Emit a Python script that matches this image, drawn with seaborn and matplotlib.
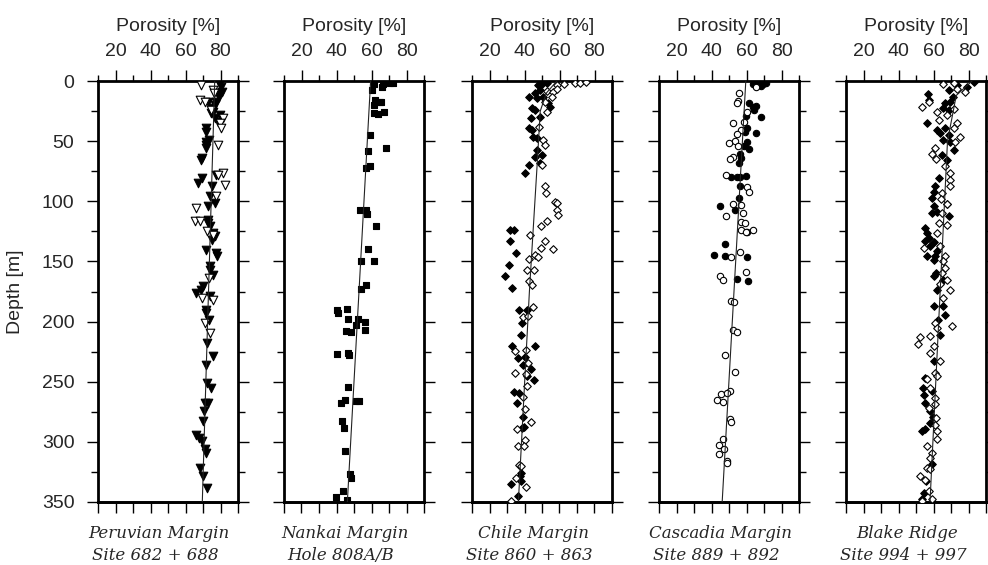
import matplotlib
matplotlib.use("Agg")
import matplotlib.pyplot as plt
import seaborn as sns
import numpy as np
import pandas as pd
from matplotlib.ticker import MultipleLocator, FixedLocator

# ---------------- data (porosity [%], depth [m]) ----------------
# Peruvian Margin, Site 682 + 688
peru_fill_phi = [79.5,80.5,81.1,78.6,79.1,77.6,76.7,72.9,75.3,75.7,74.8,76.7,79.5,78.6,71.5,71.9,73.4,71.9,71.5,71.9,
                 69.6,69.1,77.6,69.6,67.1,75.3,73.8,76.7,72.9,72.9,72.9,74.2,75.7,76.7,75.3,71.5,77.6,78.0,74.2,73.8,
                 75.7,70.0,69.1,66.2,73.8,71.5,71.9,73.4,72.5,75.7,71.9,72.5,74.8,71.0,72.9,70.4,70.0,66.2,67.7,69.6,
                 71.0,71.9,68.1,70.0,72.5]
peru_fill_dep = [1.9,4.7,8.9,10.2,13.0,17.2,19.9,17.2,22.7,25.5,26.8,31.0,28.2,33.8,39.3,42.1,49.0,50.4,53.1,55.9,
                 64.2,65.6,78.0,80.8,84.9,87.7,96.0,101.5,104.3,115.4,118.1,120.9,126.5,129.2,132.0,140.3,143.1,145.8,154.1,156.9,
                 161.0,170.7,173.5,176.3,179.0,190.1,192.9,198.4,217.8,228.8,235.7,251.0,255.1,267.6,267.6,274.5,282.8,293.9,296.6,299.4,
                 306.3,309.1,321.5,328.4,338.1]
peru_open_phi = [69.1,75.7,76.2,68.1,71.0,74.8,81.4,79.5,80.5,78.6,81.4,78.6,82.8,77.6,66.2,65.2,68.1,72.5,75.7,73.4,
                 69.6,75.7,71.0,74.2]
peru_open_dep = [3.3,7.5,10.2,15.8,17.2,24.1,31.0,35.1,39.3,53.1,76.6,78.0,86.3,96.0,105.7,116.8,116.8,125.1,127.8,163.8,
                 180.4,181.8,201.2,209.5]
peru_trend_dep = [0, 350]
peru_trend_phi = [76.7, 69.6]

# Nankai Margin, Hole 808A/B
nank_phi = [61.2,66.6,72.3,70.4,60.5,66.2,61.8,64.7,61.2,65.6,67.0,63.7,61.2,59.3,68.5,58.0,57.1,59.3,53.6,57.1,
            57.4,62.4,58.0,53.8,61.2,57.1,54.2,40.5,40.9,46.0,46.6,52.3,51.0,56.1,45.2,48.5,56.1,40.3,46.6,47.1,
            46.6,44.7,42.8,51.0,52.9,43.3,44.1,45.1,47.5,48.5,43.7,39.5,46.0]
nank_dep = [2.5,2.5,1.4,1.9,7.5,5.3,15.8,17.2,19.9,17.2,25.5,27.4,26.8,44.8,55.9,58.1,72.5,70.6,107.6,107.1,
            110.4,120.9,139.5,150.0,149.4,169.3,172.9,190.6,192.9,189.5,197.6,197.8,202.5,200.3,208.1,208.9,206.7,227.2,226.1,227.4,
            254.3,264.8,267.6,266.2,266.2,282.8,288.3,307.7,327.1,329.8,340.9,345.6,348.4]
nank_trend_dep = [0, 350]
nank_trend_phi = [59.5, 46.2]

# Chile Margin, Site 860 + 863
chil_fill_phi = [47.9,49.8,52.7,48.9,46.0,42.8,47.0,50.8,53.6,54.6,44.1,46.0,43.6,48.9,42.8,44.1,44.7,47.0,47.0,49.8,
                 46.0,48.9,42.8,40.3,31.8,34.1,31.8,35.2,31.4,29.0,32.9,36.7,41.3,38.6,38.2,32.8,46.0,36.2,40.3,39.4,
                 43.7,41.7,45.5,34.1,36.7,35.6,39.0,39.8,38.4,38.2,37.5,37.9,32.0,36.4]
chil_fill_dep = [3.3,2.5,1.9,7.5,10.2,13.6,14.4,13.0,18.5,21.3,22.7,24.1,31.0,29.6,39.3,40.7,46.8,47.6,57.3,61.4,
                 62.8,68.3,69.7,76.6,124.2,124.2,133.4,143.1,152.7,162.4,172.1,190.6,190.6,201.2,210.8,220.5,220.0,230.2,229.4,235.7,
                 239.3,244.9,248.7,258.4,259.3,267.6,279.2,287.5,288.3,325.7,328.4,332.6,335.4,345.0]
chil_open_phi = [58.3,62.5,68.8,71.6,75.4,52.7,56.5,58.3,55.5,51.7,52.7,48.5,50.8,51.7,49.8,51.7,52.3,57.4,58.7,58.3,
                 59.3,52.7,49.2,43.2,51.7,49.4,56.1,46.0,47.5,42.8,41.3,45.5,42.8,44.1,45.1,39.4,42.2,34.6,40.9,42.2,
                 34.6,40.9,41.7,39.0,40.3,43.6,35.6,40.0,36.0,39.8,36.7,38.0,35.2,40.9,32.2]
chil_open_dep = [3.3,2.5,1.9,1.4,0.6,8.0,8.9,6.9,13.0,17.2,25.5,37.9,49.0,53.1,69.7,87.7,92.7,100.2,101.5,107.1,
                 111.8,116.8,120.9,127.8,133.4,138.9,139.5,144.4,146.4,148.0,156.9,157.4,166.6,169.3,187.7,196.2,195.1,224.7,223.3,234.4,
                 242.7,243.2,253.2,262.6,272.5,283.6,289.7,298.6,303.5,303.5,319.3,320.1,329.8,337.3,349.2]
chil_trend_dep = [0, 10, 25, 75, 175, 350]
chil_trend_phi = [58.5, 52.5, 49.0, 47.0, 42.8, 36.5]

# Cascadia Margin, Site 889 + 892
casc_fill_phi = [63.8,66.6,69.5,71.4,68.5,61.5,63.8,65.7,64.2,68.0,59.6,60.4,59.0,65.3,60.0,58.5,61.5,56.2,56.6,55.8,
                 51.4,54.3,56.2,59.6,56.2,55.8,44.8,53.3,60.0,47.8,41.4,47.8,60.5,54.3,60.7]
casc_fill_dep = [2.5,1.9,2.5,1.4,4.2,18.5,21.3,20.8,24.1,29.6,29.1,39.3,42.1,43.4,50.4,54.0,56.7,60.6,64.2,67.8,
                 79.4,80.0,80.0,78.9,87.7,97.4,103.8,107.1,125.9,135.6,144.4,145.3,146.4,164.6,166.6]
casc_open_phi = [65.3,55.8,55.2,54.7,60.5,58.5,52.0,57.1,54.3,53.3,50.1,55.2,52.0,50.5,48.2,60.5,61.5,52.0,57.1,48.2,
                 58.1,56.6,59.0,56.6,59.6,63.8,56.2,51.0,59.6,44.8,46.7,51.0,52.9,52.0,54.3,47.6,53.3,50.5,45.3,42.9,
                 46.3,49.0,50.5,50.9,46.7,44.4,47.2,44.4,48.6,49.0]
casc_open_dep = [5.3,9.7,16.3,18.5,25.5,33.8,34.6,40.7,44.0,49.5,51.7,54.0,63.4,65.0,78.0,88.3,91.9,102.1,103.5,112.1,
                 109.9,117.6,118.1,123.7,125.9,123.7,142.2,146.4,158.8,161.9,165.2,183.2,184.0,206.7,208.9,227.4,241.8,257.9,260.1,264.8,
                 267.0,259.3,280.9,283.6,298.0,303.0,306.3,310.5,316.0,317.4]
casc_trend_dep = [0, 350]
casc_trend_phi = [59.6, 46.1]

# Blake Ridge, Site 994 + 997
blak_fill_phi = [82.9,79.1,73.4,68.6,56.6,57.2,71.1,69.6,66.7,65.7,68.6,56.2,61.9,66.7,63.8,68.6,69.6,65.7,71.5,64.8,
                 67.7,62.9,61.0,60.4,59.1,67.7,60.4,61.9,59.1,68.6,55.2,56.2,57.2,55.2,60.0,58.1,61.9,61.0,56.2,60.0,
                 61.5,60.4,65.7,61.9,60.4,65.7,66.7,62.3,63.8,60.4,55.2,53.9,59.1,54.3,55.2,58.1,59.6,58.1,53.3,55.2,
                 59.1,55.8,54.3,53.3]
blak_fill_dep = [0.6,4.7,3.3,7.5,10.8,15.8,13.0,17.2,18.5,22.7,24.1,35.1,40.7,39.3,43.4,44.8,50.4,49.0,57.3,61.4,
                 65.6,80.8,87.2,91.9,97.4,102.1,104.3,108.5,109.9,112.1,122.3,126.5,130.6,133.4,134.2,137.5,141.7,145.8,145.8,148.6,
                 159.7,162.4,165.2,173.5,187.3,187.3,194.2,198.4,210.8,233.0,246.8,255.1,257.9,260.7,268.1,274.5,279.2,284.2,291.1,289.7,
                 318.8,332.6,342.3,347.8]
blak_open_phi = [65.7,71.5,78.2,73.4,53.3,57.6,61.9,67.7,71.5,62.9,73.4,71.5,75.3,72.4,61.0,59.1,61.5,66.7,69.6,69.2,
                 69.6,64.8,64.4,67.7,64.8,62.9,67.7,61.9,54.3,63.6,66.7,65.7,66.7,64.8,67.7,63.8,69.6,65.7,61.0,61.9,
                 70.5,52.4,51.4,58.1,60.0,58.1,63.8,61.0,61.9,56.2,58.1,61.0,61.0,57.2,61.5,61.0,61.9,61.9,56.2,59.1,
                 58.1,56.2,58.1,52.4,55.2,57.2,53.3,59.1]
blak_open_dep = [2.5,1.9,8.9,6.9,21.9,17.2,25.5,28.2,23.5,32.4,35.1,39.3,46.2,50.4,55.9,60.6,65.0,70.6,76.6,82.2,
                 87.7,93.2,98.2,102.1,109.9,118.1,119.5,126.5,138.9,137.5,145.8,150.0,155.5,159.7,165.2,168.5,173.5,180.4,201.2,205.3,
                 203.4,212.8,218.3,212.2,220.5,226.1,233.0,242.7,245.4,247.6,255.1,263.4,268.9,271.7,280.0,285.6,291.1,298.0,303.5,309.1,
                 313.2,321.5,322.9,328.4,331.8,340.9,349.2,347.8]
blak_trend_dep = [0, 12, 50, 175, 350]
blak_trend_phi = [82.0, 73.0, 68.0, 63.8, 58.0]

x_ticks_major = [20, 40, 60, 80]
y_ticks_major = [0, 50, 100, 150, 200, 250, 300, 350]
captions = [("Peruvian Margin", "Site 682 + 688"),
            ("Nankai Margin", "Hole 808A/B"),
            ("Chile Margin", "Site 860 + 863"),
            ("Cascadia Margin", "Site 889 + 892"),
            ("Blake Ridge", "Site 994 + 997")]

# ---------------- figure ----------------
sns.set_theme(style="white")
plt.rcParams['font.family'] = ['Liberation Sans', 'DejaVu Sans']

W, H = 988, 565
fig = plt.figure(figsize=(W / 100, H / 100), dpi=100)

lefts = [98, 284, 472, 659, 846]
pw = 140
top_px, bot_px = 81, 502

panels = [
    [(peru_fill_phi, peru_fill_dep, 'v', 'black', 38), (peru_open_phi, peru_open_dep, 'v', 'white', 38)],
    [(nank_phi, nank_dep, 's', 'black', 24)],
    [(chil_fill_phi, chil_fill_dep, 'D', 'black', 15), (chil_open_phi, chil_open_dep, 'D', 'white', 15)],
    [(casc_fill_phi, casc_fill_dep, 'o', 'black', 21), (casc_open_phi, casc_open_dep, 'o', 'white', 21)],
    [(blak_fill_phi, blak_fill_dep, 'D', 'black', 15), (blak_open_phi, blak_open_dep, 'D', 'white', 15)],
]
trends = [(peru_trend_phi, peru_trend_dep), (nank_trend_phi, nank_trend_dep), (chil_trend_phi, chil_trend_dep),
          (casc_trend_phi, casc_trend_dep), (blak_trend_phi, blak_trend_dep)]

for i, left in enumerate(lefts):
    ax = fig.add_axes([left / W, 1 - bot_px / H, pw / W, (bot_px - top_px) / H])
    for phi, dep, mk, fc, s in panels[i]:
        df = pd.DataFrame({"phi": phi, "dep": dep})
        sns.scatterplot(data=df, x="phi", y="dep", ax=ax, marker=mk, s=s, color=fc,
                        edgecolor='black', linewidth=0.8, zorder=3, legend=False)
    tphi, tdep = trends[i]
    ax.plot(tphi, tdep, color='#222222', lw=0.8, zorder=4)

    ax.set_xlim(10, 90)
    ax.set_ylim(350, 0)
    for sp in ax.spines.values():
        sp.set_linewidth(2.0)
        sp.set_color('black')

    ax.xaxis.set_major_locator(FixedLocator(x_ticks_major))
    ax.xaxis.set_minor_locator(MultipleLocator(10))
    ax.yaxis.set_major_locator(FixedLocator(y_ticks_major))
    ax.yaxis.set_minor_locator(MultipleLocator(25))
    ax.tick_params(axis='x', which='both', top=True, bottom=False, labeltop=True, labelbottom=False,
                   direction='out', color='black', width=1.0)
    ax.tick_params(axis='x', which='major', length=8, pad=7, labelsize=14)
    ax.tick_params(axis='x', which='minor', length=4)
    ax.tick_params(axis='y', which='both', left=True, right=True, direction='out', color='black', width=1.0,
                   labelleft=(i == 0), labelright=False)
    ax.tick_params(axis='y', which='major', length=8, pad=9, labelsize=14)
    ax.tick_params(axis='y', which='minor', length=5)

    # bottom ticks: equal length at every 10 %
    sec = ax.secondary_xaxis('bottom')
    sec.xaxis.set_major_locator(MultipleLocator(10))
    sec.tick_params(axis='x', which='major', direction='out', length=8, width=1.0, color='black',
                    labelbottom=False)
    sec.tick_params(axis='x', which='minor', bottom=False)
    sec.spines['bottom'].set_linewidth(2.0)

    ax.set_xlabel("Porosity [%]", fontsize=14, labelpad=9)
    ax.xaxis.set_label_position('top')
    if i == 0:
        ax.set_ylabel("Depth [m]", fontsize=14)
        ax.yaxis.set_label_coords(-0.53, 0.5)
    else:
        ax.set_ylabel("")

    fig.text((left + pw / 2 - 9) / W, 1 - 534 / H, captions[i][0], ha='center', va='center', fontsize=12,
             family='DejaVu Serif', style='italic')
    fig.text((left + pw / 2 - 13) / W, 1 - 556 / H, captions[i][1], ha='center', va='center', fontsize=12,
             family='DejaVu Serif', style='italic')

fig.savefig("out.png", dpi=100)
